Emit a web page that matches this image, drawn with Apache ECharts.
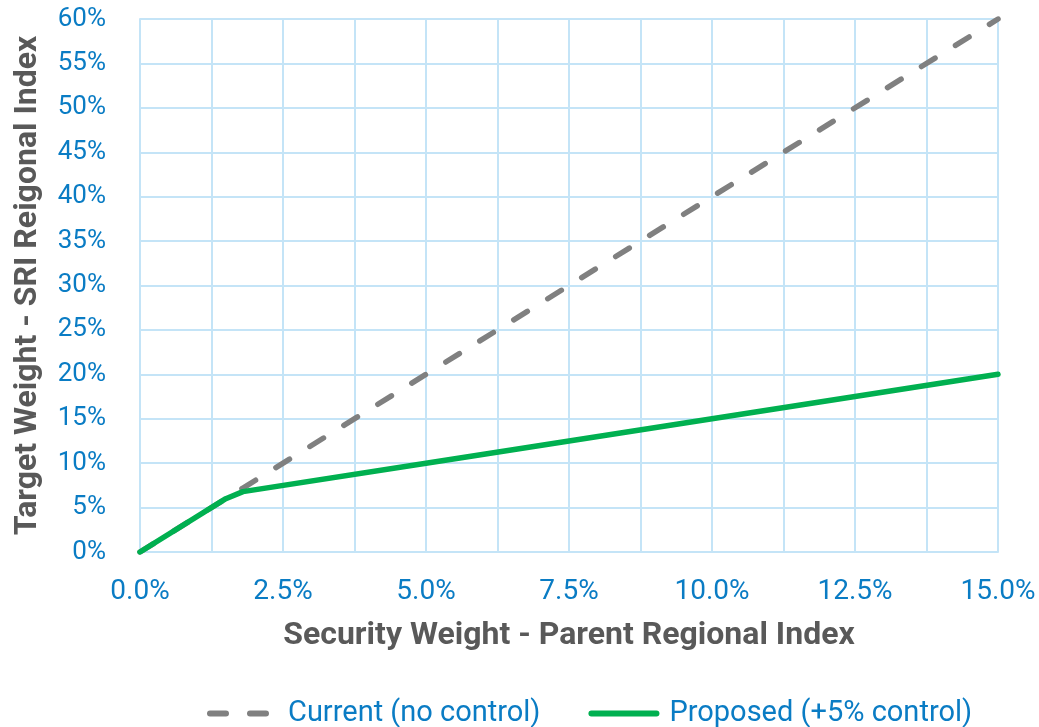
<!DOCTYPE html>
<html>
<head>
<meta charset="utf-8">
<script src="https://cdn.jsdelivr.net/npm/echarts@6/dist/echarts.min.js"></script>
<style>
  html, body { margin: 0; padding: 0; background: #fff; }
  #chart { width: 1039px; height: 727px; }
</style>
</head>
<body>
<div id="chart"></div>
<script>
// security weight (%) at each sample point
const securityWeight = [0, 1.5, 1.8, 5, 10, 15];
// target weight (%) for each scheme
const currentWeight = [0, 6, 7.2, 20, 40, 60];
const proposedWeight = [0, 6, 6.8, 10, 15, 20];

const seriesNames = ['Current (no control)', 'Proposed (+5% control)'];
const xTitle = 'Security Weight - Parent Regional Index';
const yTitle = 'Target Weight - SRI Reigonal Index';

const blue = '#0a7cc4';
const grey = '#595959';
const gridColor = '#c4e4f7';

const pairs = (xs, ys) => xs.map((x, i) => [x, ys[i]]);

const myChart = echarts.init(document.getElementById('chart'));

const option = {
  backgroundColor: '#fff',
  animation: false,
  textStyle: { fontFamily: 'Roboto' },
  grid: { left: 140, right: 41, top: 19, bottom: 175 },
  legend: {
    top: 694,
    left: 202,
    itemWidth: 65,
    itemHeight: 8,
    itemGap: 48,
    data: seriesNames,
    itemStyle: { opacity: 0 },
    lineStyle: { width: 6 },
    textStyle: { color: blue, fontSize: 29, fontFamily: 'Roboto', padding: [0, 0, 0, 8] }
  },
  xAxis: {
    type: 'value',
    min: 0,
    max: 15,
    interval: 1.25,
    name: xTitle,
    nameLocation: 'middle',
    nameGap: 68,
    nameTextStyle: { color: grey, fontSize: 32, fontWeight: 'bold' },
    axisLine: { show: true, lineStyle: { color: gridColor, width: 2 } },
    axisTick: { show: false },
    axisLabel: {
      color: blue,
      fontSize: 28,
      margin: 26,
      formatter: v => (Math.round(v / 1.25) % 2 === 0 ? v.toFixed(1) + '%' : '')
    },
    splitLine: { show: true, lineStyle: { color: gridColor, width: 2 } }
  },
  yAxis: {
    type: 'value',
    min: 0,
    max: 60,
    interval: 5,
    name: yTitle,
    nameLocation: 'middle',
    nameGap: 96,
    nameTextStyle: { color: grey, fontSize: 32, fontWeight: 'bold' },
    axisLine: { show: true, lineStyle: { color: gridColor, width: 2 } },
    axisTick: { show: false },
    axisLabel: { color: blue, fontSize: 26, margin: 34, formatter: v => v + '%' },
    splitLine: { show: true, lineStyle: { color: gridColor, width: 2 } }
  },
  series: [
    {
      name: seriesNames[0],
      type: 'line',
      data: pairs(securityWeight, currentWeight),
      showSymbol: false,
      symbol: 'none',
      itemStyle: { color: '#808080' },
      lineStyle: { color: '#808080', width: 5.5, type: [16, 24], cap: 'round' },
      z: 2
    },
    {
      name: seriesNames[1],
      type: 'line',
      data: pairs(securityWeight, proposedWeight),
      showSymbol: false,
      symbol: 'none',
      itemStyle: { color: '#00b050' },
      lineStyle: { color: '#00b050', width: 5.5, cap: 'round', join: 'round' },
      z: 3
    }
  ]
};

myChart.setOption(option);
</script>
</body>
</html>
